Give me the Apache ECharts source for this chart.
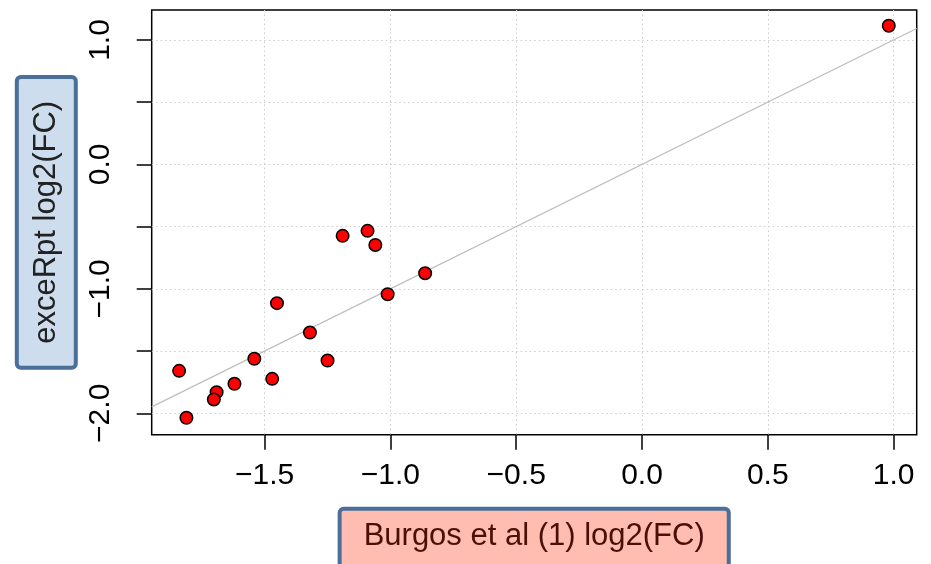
<!DOCTYPE html>
<html>
<head>
<meta charset="utf-8">
<script src="https://cdn.jsdelivr.net/npm/echarts@6/dist/echarts.min.js"></script>
<style>
  html, body { margin: 0; padding: 0; background: #fff; }
  #chart { width: 931px; height: 564px; }
</style>
</head>
<body>
<div id="chart"></div>
<script>
// Burgos et al (1) log2(FC) vs exceRpt log2(FC)
var burgosFC  = [-1.840, -1.811, -1.691, -1.702, -1.620, -1.541, -1.470, -1.451, -1.320, -1.250, -1.190, -1.091, -1.060, -1.011, -0.862, 0.981];
var exceRptFC = [-1.659, -2.036, -1.830, -1.889, -1.763, -1.562, -1.723, -1.115, -1.351, -1.576, -0.574, -0.534, -0.647, -1.043, -0.874, 1.115];

var xRange = [-1.949, 1.092];
var yRange = [-2.172, 1.241];
var xTicks = [-1.5, -1.0, -0.5, 0.0, 0.5, 1.0];
var yTicks = [-2.0, -1.5, -1.0, -0.5, 0.0, 0.5, 1.0];
var yLabels = [-2.0, -1.0, 0.0, 1.0];

var points = burgosFC.map(function (x, i) { return [x, exceRptFC[i]]; });
// identity line y = x across the plot
var identity = [[xRange[0], xRange[0]], [xRange[1], xRange[1]]];

function fmt(v) {
    return (v < 0 ? '\u2212' : '') + Math.abs(v).toFixed(1);
}

var chart = echarts.init(document.getElementById('chart'));
var font = 'Liberation Sans, Arial, Helvetica, sans-serif';

var option = {
    animation: false,
    grid: {
        left: 151.7, right: 14.3, top: 10, bottom: 129.3,
        outerBoundsMode: 'none',
        containLabel: false,
        show: true,
        borderColor: '#000',
        borderWidth: 1.5,
        backgroundColor: 'transparent'
    },
    xAxis: {
        type: 'value',
        min: xRange[0],
        max: xRange[1],
        axisLine: { show: false, onZero: false },
        axisTick: { show: true, inside: false, length: 15, customValues: xTicks,
            lineStyle: { color: '#000', width: 1.5 } },
        axisLabel: { customValues: xTicks, formatter: fmt, margin: 26,
            color: '#000', fontSize: 30, fontFamily: font },
        splitLine: { show: true, lineStyle: { color: '#cccccc', type: [1.5, 3], width: 1 } },
        name: 'Burgos et al (1) log2(FC)',
        nameLocation: 'middle',
        nameGap: 76,
        nameTextStyle: {
            fontSize: 31, fontFamily: font, color: '#4a1008',
            backgroundColor: '#ffbcb1',
            borderColor: '#4a6f98', borderWidth: 4, borderRadius: 2,
            padding: [10, 22, 24, 22]
        }
    },
    yAxis: {
        type: 'value',
        min: yRange[0],
        max: yRange[1],
        axisLine: { show: false, onZero: false },
        axisTick: { show: true, inside: false, length: 15, customValues: yTicks,
            lineStyle: { color: '#000', width: 1.5 } },
        axisLabel: { customValues: yLabels, formatter: fmt, rotate: 90, margin: 36,
            color: '#000', fontSize: 30, fontFamily: font },
        splitLine: { show: true, lineStyle: { color: '#cccccc', type: [1.5, 3], width: 1 } },
        name: 'exceRpt log2(FC)',
        nameLocation: 'middle',
        nameRotate: 90,
        nameGap: 73,
        nameTextStyle: {
            fontSize: 31, fontFamily: font, color: '#222',
            backgroundColor: '#cdddee',
            borderColor: '#4a6f98', borderWidth: 4, borderRadius: 2,
            padding: [12, 22, 12, 22]
        }
    },
    series: [
        {
            type: 'line',
            data: identity,
            symbol: 'none',
            lineStyle: { color: '#bebebe', width: 1.3 },
            z: 1
        },
        {
            type: 'scatter',
            data: points,
            symbol: 'circle',
            symbolSize: 12.5,
            itemStyle: { color: '#ff0000', borderColor: '#000', borderWidth: 1.5, opacity: 1 },
            z: 3
        }
    ]
};
chart.setOption(option);
</script>
</body>
</html>
